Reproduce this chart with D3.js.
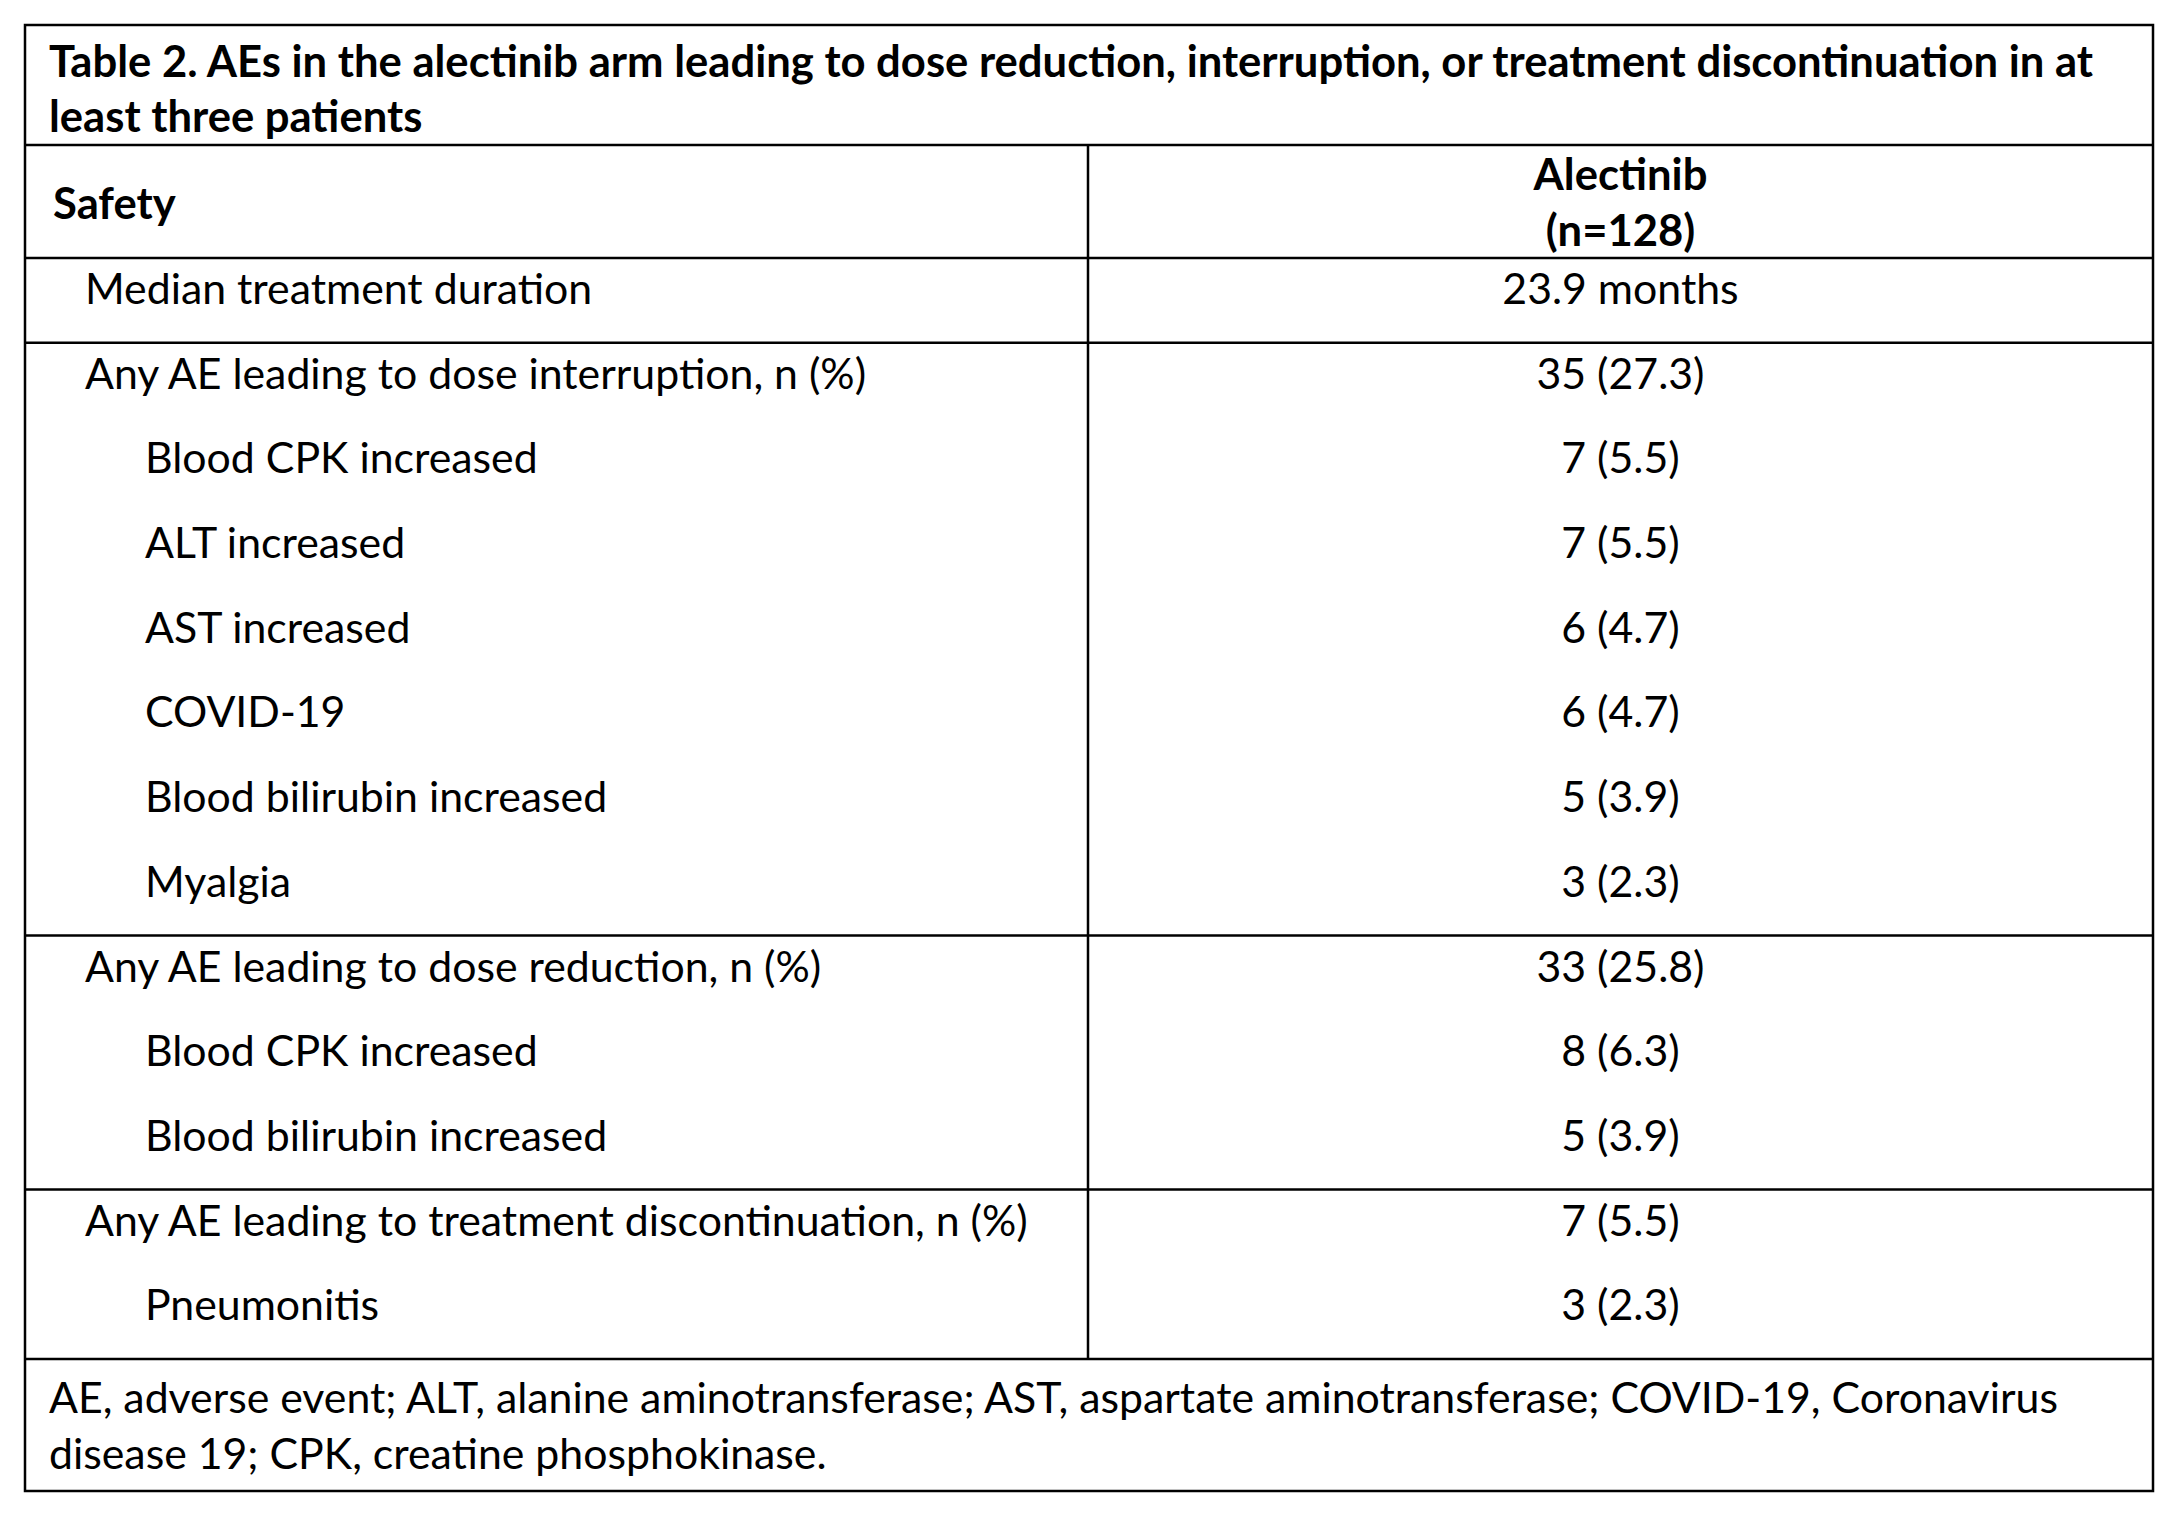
<!DOCTYPE html>
<html>
<head>
<meta charset="utf-8">
<script src="https://cdn.jsdelivr.net/npm/d3@7"></script>
<style>
  body { margin: 0; background: #fff; }
  svg text { font-family: Lato, "Open Sans", sans-serif; fill: #000; }
</style>
</head>
<body>
<svg id="chart" width="2179" height="1530"></svg>
<script>
// table content
const titleLines = [
  "Table 2. AEs in the alectinib arm leading to dose reduction, interruption, or treatment discontinuation in at",
  "least three patients"
];
const colHeaders = ["Safety", ["Alectinib", "(n=128)"]];
const rowLabels = [
  "Median treatment duration",
  "Any AE leading to dose interruption, n (%)",
  "Blood CPK increased",
  "ALT increased",
  "AST increased",
  "COVID-19",
  "Blood bilirubin increased",
  "Myalgia",
  "Any AE leading to dose reduction, n (%)",
  "Blood CPK increased",
  "Blood bilirubin increased",
  "Any AE leading to treatment discontinuation, n (%)",
  "Pneumonitis"
];
const rowValues = [
  "23.9 months", "35 (27.3)", "7 (5.5)", "7 (5.5)", "6 (4.7)", "6 (4.7)", "5 (3.9)", "3 (2.3)",
  "33 (25.8)", "8 (6.3)", "5 (3.9)", "7 (5.5)", "3 (2.3)"
];
const rowLevel = [0, 0, 1, 1, 1, 1, 1, 1, 0, 1, 1, 0, 1];
const groupStarts = [0, 1, 8, 11];
const footLines = [
  "AE, adverse event; ALT, alanine aminotransferase; AST, aspartate aminotransferase; COVID-19, Coronavirus",
  "disease 19; CPK, creatine phosphokinase."
];

const svg = d3.select("#chart");
const boxL = 25, boxR = 2153, boxT = 25, boxB = 1491;
const titleBottom = 145, headBottom = 258, bodyBottom = 1359, colX = 1088;
const fs = 42.8, fsBold = 43.6;
const valueX = (colX + boxR) / 2;

const y = d3.scaleBand()
  .domain(d3.range(rowLabels.length))
  .range([headBottom, bodyBottom]);

svg.append("rect").attr("width", 2179).attr("height", 1530).attr("fill", "#fff");

// title
svg.selectAll("text.title")
  .data(titleLines)
  .enter().append("text")
  .attr("class", "title")
  .attr("x", 49)
  .attr("y", (d, i) => 62 + i * 55)
  .attr("dy", "0.35em")
  .style("font-size", fsBold + "px")
  .style("font-weight", "bold")
  .text(d => d);

// header
svg.append("text")
  .attr("x", 53).attr("y", 204).attr("dy", "0.35em")
  .style("font-size", fsBold + "px").style("font-weight", "bold")
  .text(colHeaders[0]);
svg.selectAll("text.colhead")
  .data(colHeaders[1])
  .enter().append("text")
  .attr("class", "colhead")
  .attr("x", valueX)
  .attr("y", (d, i) => 175 + i * 56)
  .attr("dy", "0.35em")
  .attr("text-anchor", "middle")
  .style("font-size", fsBold + "px").style("font-weight", "bold")
  .text(d => d);

// body rows
const rows = svg.selectAll("g.row")
  .data(rowLabels)
  .enter().append("g")
  .attr("class", "row")
  .attr("transform", (d, i) => "translate(0," + (y(i) + 31) + ")");

rows.append("text")
  .attr("x", (d, i) => rowLevel[i] ? 145 : 85)
  .attr("dy", "0.35em")
  .style("font-size", fs + "px")
  .text(d => d);

rows.append("text")
  .attr("x", valueX)
  .attr("dy", "0.35em")
  .attr("text-anchor", "middle")
  .style("font-size", fs + "px")
  .text((d, i) => rowValues[i]);

// footnote
svg.selectAll("text.foot")
  .data(footLines)
  .enter().append("text")
  .attr("class", "foot")
  .attr("x", 49)
  .attr("y", (d, i) => 1398 + i * 56)
  .attr("dy", "0.35em")
  .style("font-size", fs + "px")
  .text(d => d);

// rules
const lines = svg.append("g").attr("stroke", "#000").attr("stroke-width", 2.5);
lines.append("rect")
  .attr("x", boxL).attr("y", boxT)
  .attr("width", boxR - boxL).attr("height", boxB - boxT)
  .attr("fill", "none");
const hy = [titleBottom, headBottom].concat(groupStarts.slice(1).map(i => y(i)), [bodyBottom]);
lines.selectAll("line.h")
  .data(hy)
  .enter().append("line")
  .attr("x1", boxL).attr("x2", boxR)
  .attr("y1", d => d).attr("y2", d => d);
lines.append("line")
  .attr("x1", colX).attr("x2", colX)
  .attr("y1", titleBottom).attr("y2", bodyBottom);
</script>
</body>
</html>
